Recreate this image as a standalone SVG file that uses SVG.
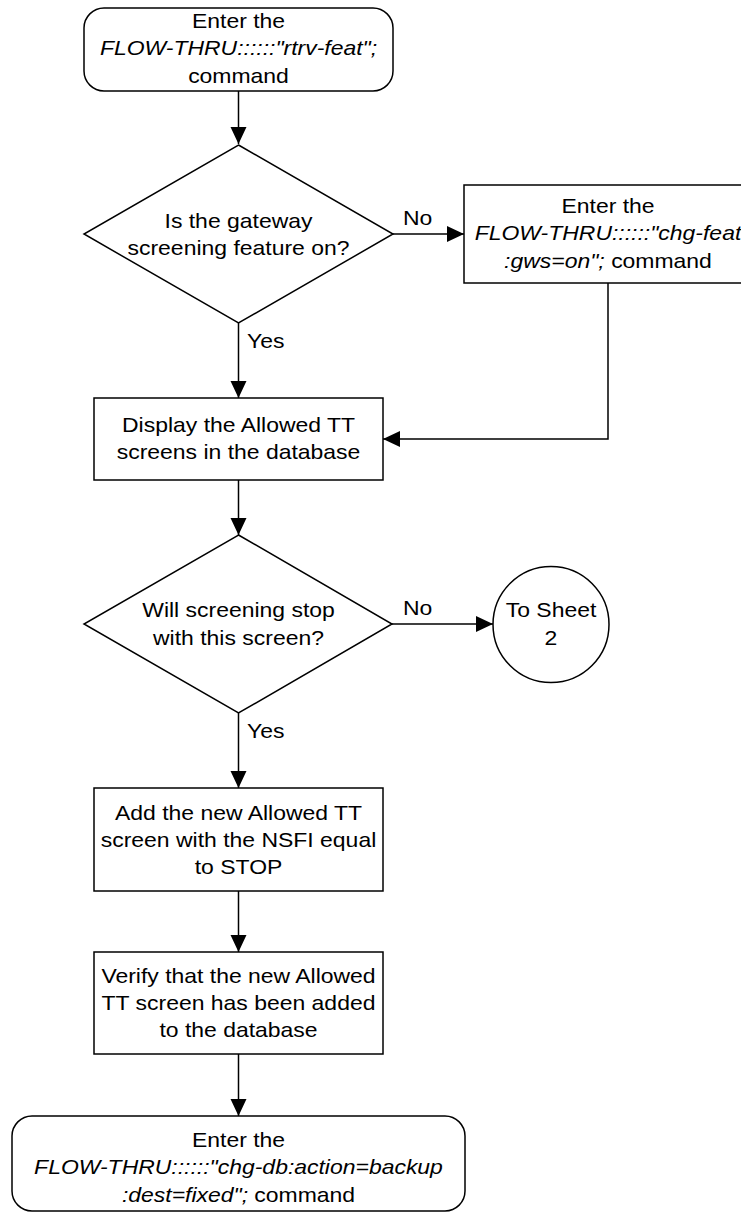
<svg xmlns="http://www.w3.org/2000/svg" width="741" height="1214" viewBox="0 0 741 1214">
<style>
.shape{fill:#ffffff;stroke:#000000;stroke-width:1.5}
.conn{fill:none;stroke:#000000;stroke-width:1.5}
text{font-family:"Liberation Sans",Arial,sans-serif;font-size:20.5px;fill:#000000;text-anchor:middle}
text.lbl{text-anchor:start}
.it{font-style:italic}
</style>
<defs>
<marker id="arr" markerUnits="userSpaceOnUse" markerWidth="18" markerHeight="17" refX="17" refY="8" orient="auto">
<path d="M0,0 L17,8 L0,16 z" fill="#000000"/>
</marker>
</defs>
<g id="connectors">
<line class="conn" x1="238.5" y1="91" x2="238.5" y2="144" marker-end="url(#arr)"/>
<line class="conn" x1="393" y1="234" x2="464" y2="234" marker-end="url(#arr)"/>
<line class="conn" x1="238.5" y1="323" x2="238.5" y2="398" marker-end="url(#arr)"/>
<polyline class="conn" points="608,283 608,439 383,439" marker-end="url(#arr)"/>
<line class="conn" x1="238.5" y1="480" x2="238.5" y2="535" marker-end="url(#arr)"/>
<line class="conn" x1="392" y1="624" x2="493" y2="624" marker-end="url(#arr)"/>
<line class="conn" x1="238.5" y1="713" x2="238.5" y2="788" marker-end="url(#arr)"/>
<line class="conn" x1="238.5" y1="891" x2="238.5" y2="952" marker-end="url(#arr)"/>
<line class="conn" x1="238.5" y1="1054" x2="238.5" y2="1116" marker-end="url(#arr)"/>
<g transform="translate(403 0) scale(1.12 1)"><text class="lbl" x="0" y="225">No</text></g>
<g transform="translate(403 0) scale(1.12 1)"><text class="lbl" x="0" y="615">No</text></g>
<g transform="translate(247 0) scale(1.12 1)"><text class="lbl" x="0" y="348">Yes</text></g>
<g transform="translate(247 0) scale(1.12 1)"><text class="lbl" x="0" y="738">Yes</text></g>
</g>
<g id="start">
<rect class="shape" x="84" y="8" width="309" height="83" rx="20" ry="20"/>
<g transform="translate(238.5 0) scale(1.12 1)">
<text x="0" y="28">Enter the</text>
<text x="0" y="55.5" class="it">FLOW-THRU::::::"rtrv-feat";</text>
<text x="0" y="83">command</text>
</g>
</g>
<g id="decision1">
<polygon class="shape" points="238.5,145 393,234 238.5,323 84,234"/>
<g transform="translate(238.5 0) scale(1.12 1)">
<text x="0" y="228">Is the gateway</text>
<text x="0" y="255.5">screening feature on?</text>
</g>
</g>
<g id="chgfeat">
<rect class="shape" x="464" y="185" width="288" height="98"/>
<g transform="translate(608 0) scale(1.12 1)">
<text x="0" y="213">Enter the</text>
<text x="0" y="240.5" class="it">FLOW-THRU::::::"chg-feat</text>
<text x="0" y="268"><tspan class="it">:gws=on";</tspan> command</text>
</g>
</g>
<g id="display">
<rect class="shape" x="94" y="398" width="289" height="82"/>
<g transform="translate(238.5 0) scale(1.12 1)">
<text x="0" y="432">Display the Allowed TT</text>
<text x="0" y="459.5">screens in the database</text>
</g>
</g>
<g id="decision2">
<polygon class="shape" points="238.5,535 392,624 238.5,713 84,624"/>
<g transform="translate(238.5 0) scale(1.12 1)">
<text x="0" y="617.5">Will screening stop</text>
<text x="0" y="645">with this screen?</text>
</g>
</g>
<g id="sheet2">
<circle class="shape" cx="551" cy="624.5" r="58"/>
<g transform="translate(551 0) scale(1.12 1)">
<text x="0" y="617.5">To Sheet</text>
<text x="0" y="645">2</text>
</g>
</g>
<g id="add">
<rect class="shape" x="94" y="788" width="289" height="103"/>
<g transform="translate(238.5 0) scale(1.12 1)">
<text x="0" y="820">Add the new Allowed TT</text>
<text x="0" y="847">screen with the NSFI equal</text>
<text x="0" y="874">to STOP</text>
</g>
</g>
<g id="verify">
<rect class="shape" x="94" y="952" width="289" height="102"/>
<g transform="translate(238.5 0) scale(1.12 1)">
<text x="0" y="983">Verify that the new Allowed</text>
<text x="0" y="1010">TT screen has been added</text>
<text x="0" y="1037">to the database</text>
</g>
</g>
<g id="end">
<rect class="shape" x="12" y="1116" width="453" height="95" rx="20" ry="20"/>
<g transform="translate(238.5 0) scale(1.12 1)">
<text x="0" y="1147">Enter the</text>
<text x="0" y="1174.5" class="it">FLOW-THRU::::::"chg-db:action=backup</text>
<text x="0" y="1202"><tspan class="it">:dest=fixed";</tspan> command</text>
</g>
</g>
</svg>
